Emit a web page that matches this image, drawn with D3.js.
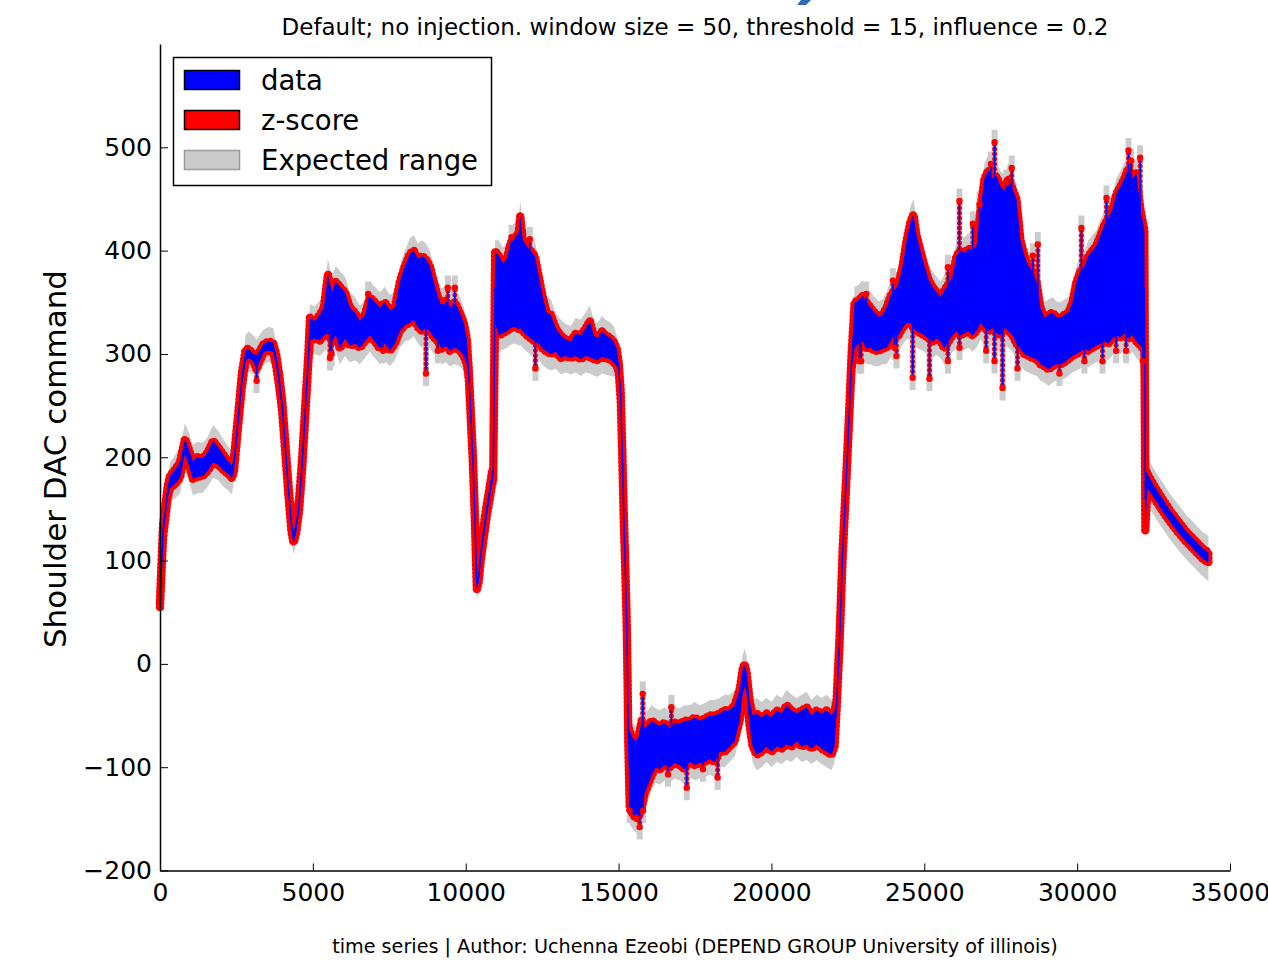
<!DOCTYPE html>
<html><head><meta charset="utf-8">
<script src="https://cdn.jsdelivr.net/npm/d3@7"></script>
<style>body{margin:0;background:#fff}svg{display:block}text{font-family:"DejaVu Sans",sans-serif;fill:#000}</style>
</head><body><svg id="c" width="1268" height="971"></svg>
<script>
const chartTitle = "Default; no injection. window size = 50, threshold = 15, influence = 0.2";
const footer = "time series | Author: Uchenna Ezeobi (DEPEND GROUP University of illinois)";
const yLabel = "Shoulder DAC command";
const legendLabels = ["data", "z-score", "Expected range"];
const xTicks = [0,5000,10000,15000,20000,25000,30000,35000];
const yTicks = [-200,-100,0,100,200,300,400,500];

const time = [0,100,250,327,490,654,817,915,1079,1210,1406,1570,1733,1896,2060,2223,2354,2420,2550,2680,2800,2900,3050,3160,3250,3400,3550,3700,3800,3900,4000,4100,4200,4300,4370,4450,4550,4650,4750,4850,4904,5067,5230,5360,5492,5623,5753,5884,6048,6211,6375,6538,6701,6865,7028,7192,7355,7519,7682,7846,8009,8173,8303,8434,8565,8696,8827,8957,9088,9219,9350,9480,9644,9807,9938,10036,10101,10167,10232,10297,10363,10428,10494,10592,10690,10788,10853,10900,10960,11082,11213,11344,11474,11605,11736,11785,11867,11998,12128,12259,12390,12521,12651,12782,12945,13109,13272,13436,13599,13763,13926,14057,14188,14318,14449,14580,14711,14841,14940,15005,15070,15120,15168,15218,15266,15299,15315,15364,15462,15561,15659,15757,15855,15953,16084,16214,16345,16509,16672,16836,16999,17163,17326,17490,17653,17817,17980,18143,18307,18470,18634,18797,18961,19059,19124,19189,19287,19385,19516,19680,19843,20007,20170,20334,20497,20661,20824,20987,21151,21314,21478,21641,21805,21968,22066,22131,22229,22327,22458,22556,22621,22720,22850,22981,23112,23243,23373,23504,23635,23766,23896,24027,24158,24289,24420,24550,24648,24746,24877,25008,25139,25270,25400,25531,25662,25793,25924,26054,26185,26316,26447,26577,26708,26839,26970,27101,27231,27362,27493,27624,27754,27885,28016,28147,28277,28408,28539,28670,28800,28931,29062,29193,29323,29454,29585,29716,29846,29977,30108,30239,30369,30500,30631,30762,30892,31023,31154,31285,31415,31546,31677,31808,31939,32069,32167,32200,32230,32300,32527,32789,33050,33312,33573,33835,34097,34293];

const dataHigh = [62,135,172,182,188,195,218,210,196,200,199,205,216,210,203,196,192,
200,240,282,304,305,300,299,302,310,312,311,300,280,255,215,175,140,128,138,160,200,250,300,
335,332,338,345,377,360,370,365,360,345,340,332,338,355,350,345,350,342,345,370,385,397,400,392,395,392,385,370,355,348,352,345,350,340,330,315,
285,245,205,150,80,90,112,135,155,172,185,190,400,
395,388,392,408,412,418,434,410,404,400,395,375,355,340,338,325,318,314,312,320,318,325,332,318,315,322,318,316,312,305,
292,265,210,150,100,45,-20,-60,
-65,-72,-75,-70,-55,-62,-60,-55,-58,-60,-57,-62,-57,-58,-55,-55,-52,-55,-53,-50,-50,-48,-45,-45,-40,-25,-5,0,-8,-35,-50,-48,-52,-48,-52,-45,-48,-40,-45,-48,-45,-42,-50,-45,-48,-45,-50,-45,
-35,28,110,190,255,300,
350,352,356,350,345,340,336,338,345,356,362,368,385,410,428,435,415,400,385,372,365,360,355,362,368,375,395,400,398,402,400,405,440,470,478,470,472,462,458,470,460,450,410,395,385,380,370,345,335,338,340,336,335,338,340,350,370,380,385,395,400,405,415,425,432,440,455,462,470,480,470,475,440,425,
420,190,184,172,160,148,138,128,120,112,108];

const dataLow = [55,122,160,170,174,180,203,195,179,181,182,187,195,193,188,184,180,
186,228,268,293,296,293,285,292,302,303,302,288,268,243,203,163,128,117,126,148,188,238,290,
313,315,313,318,320,312,318,305,315,308,310,306,312,318,312,305,310,303,310,322,328,330,333,326,322,325,322,316,312,305,308,303,306,303,298,290,
275,235,195,140,72,80,100,122,143,160,172,178,330,
318,320,322,325,326,324,325,322,318,315,312,310,305,302,300,302,296,298,296,298,295,298,297,295,294,297,296,295,292,288,
283,255,200,140,90,35,-30,-75,
-140,-145,-150,-148,-140,-125,-118,-108,-100,-102,-98,-100,-96,-98,-102,-95,-98,-96,-95,-92,-95,-85,-85,-80,-75,-55,-30,-22,-30,-60,-80,-88,-85,-80,-85,-80,-82,-78,-80,-75,-80,-78,-82,-78,-82,-85,-88,-80,
-45,18,100,180,245,285,
305,310,312,305,306,303,303,305,306,312,320,318,325,330,330,325,322,320,318,315,312,315,312,305,312,318,322,318,320,322,318,322,330,325,322,325,320,318,325,322,318,310,305,300,298,296,295,290,288,285,288,290,290,292,295,298,300,302,305,303,306,308,310,312,310,315,318,316,320,315,318,312,308,305,
302,129,170,160,148,137,127,118,110,102,98];

const rangeHigh = [66,142,182,195,202,210,233,226,212,215,214,220,231,226,218,211,206,
210,248,290,318,322,318,314,318,324,326,325,312,290,265,225,185,150,138,148,170,208,258,310,
348,346,352,360,392,375,385,380,375,360,355,347,352,370,365,360,365,357,360,385,400,412,415,407,410,407,400,385,370,363,367,360,365,355,345,328,
292,252,212,157,88,98,122,146,166,183,195,198,410,
410,403,407,423,427,433,448,425,419,415,410,390,370,355,353,340,333,329,327,335,333,340,347,333,330,337,333,331,327,318,
298,270,215,155,105,50,-15,-55,
-50,-57,-60,-55,-40,-47,-45,-40,-43,-45,-42,-47,-42,-43,-40,-40,-37,-40,-38,-35,-35,-33,-30,-30,-25,-10,8,15,7,-20,-35,-33,-37,-33,-37,-30,-33,-25,-30,-33,-30,-27,-35,-30,-33,-30,-35,-32,
-28,33,115,195,260,308,
365,367,371,365,360,355,351,353,360,371,377,383,400,425,443,450,430,415,400,387,380,375,370,377,383,390,410,415,413,417,415,420,455,485,493,485,487,477,473,485,475,465,425,410,400,395,385,360,350,353,355,351,350,353,355,365,385,395,400,410,415,420,430,440,447,455,470,477,485,495,485,490,455,440,
430,200,200,188,176,164,154,144,136,128,124];

const rangeLow = [48,112,148,157,160,165,188,180,163,165,166,172,180,178,172,168,164,
178,222,262,284,283,280,272,280,290,292,290,280,260,235,195,155,118,106,116,140,180,230,280,
300,300,298,302,305,296,302,290,298,292,294,290,296,302,296,290,294,288,294,306,312,314,317,310,306,308,306,300,296,290,292,288,290,288,284,278,
268,228,188,133,62,70,90,112,132,150,162,172,318,
302,304,306,309,310,308,309,306,302,299,296,294,289,286,284,286,280,282,280,282,279,282,281,279,278,281,280,279,278,278,
277,250,195,135,85,30,-35,-80,
-155,-160,-163,-162,-155,-140,-133,-123,-115,-117,-113,-115,-111,-113,-117,-110,-113,-111,-110,-107,-110,-100,-100,-95,-90,-70,-45,-37,-45,-75,-95,-103,-100,-95,-100,-95,-97,-93,-95,-90,-95,-93,-97,-93,-97,-100,-103,-95,
-52,13,95,175,240,278,
290,294,296,290,290,288,288,290,290,296,304,302,309,314,314,309,306,304,302,299,296,299,296,289,296,302,306,302,304,306,302,306,314,309,306,309,304,302,309,306,302,294,289,284,282,280,279,274,272,269,272,274,274,276,279,282,284,286,289,287,290,292,294,296,294,299,302,300,304,299,302,296,292,290,
295,124,155,143,131,120,110,101,93,85,80];

// isolated excursions (z-score hits)
const spikeTime  = [3160,5560,5612,6811,7300,8700,9088,9251,9415,9644,11500,12095,12280,
  15364,15582,15690,15790,15800,16617,16727,17230,17762,18240,
  22880,22937,23101,23973,24027,24090,24620,25170,25771,25771,26150,26152,26588,26806,27024,27180,27296,27300,27560,27678,27860,28050,28550,28713,29421,30140,30238,30830,30960,31274,31601,31680,31764,32060,32150];
const spikeValue = [274,296,300,358,303,281,303,351,364,364,413,411,286,
  -142,-149,-158,-29,-142,-107,-42,-120,-102,-110,
  293,293,358,371,306,298,277,276,384,293,448,306,426,445,303,484,293,505,267,466,480,286,395,406,281,422,293,293,451,303,303,497,487,490,293];

const svg = d3.select("#c");
const x = d3.scaleLinear().domain([0, 35000]).range([160, 1230]);
const y = d3.scaleLinear().domain([-200, 600]).range([870.5, 44]);
const n = d3.min([time.length, dataHigh.length, dataLow.length, rangeHigh.length, rangeLow.length]);
const idx = d3.range(n);
const tN = time.slice(0, n);

// small blue artifact at top of image
svg.append("path").attr("d", "M801,0L811,0L806,5L797,5Z").attr("fill", "#2a6cb9");

const plot = svg.append("g");

// expected range
plot.append("path")
  .attr("d", d3.area().x(i => x(time[i])).y0(i => y(rangeLow[i])).y1(i => y(rangeHigh[i]))(idx))
  .attr("fill", "#cbcbcb");

function midAt(t) {
  const i = d3.bisectLeft(tN, t);
  const i1 = Math.min(n - 1, i), i0 = Math.max(0, i - 1);
  const f = time[i1] === time[i0] ? 0 : (t - time[i0]) / (time[i1] - time[i0]);
  return ((dataHigh[i0] + dataLow[i0]) * (1 - f) + (dataHigh[i1] + dataLow[i1]) * f) / 2;
}
const spikes = spikeTime.map((t, k) => ({t, v: spikeValue[k], base: midAt(t)}));

plot.selectAll(".sg").data(spikes).join("line")
  .attr("x1", d => x(d.t)).attr("x2", d => x(d.t))
  .attr("y1", d => y(d.base))
  .attr("y2", d => y(d.v + (d.v > d.base ? 12 : -12)))
  .attr("stroke", "#cbcbcb").attr("stroke-width", 6);

const dataArea = d3.area().x(i => x(time[i])).y0(i => y(dataLow[i])).y1(i => y(dataHigh[i]));

// z-score markers (red dots) around the data
plot.append("path").attr("d", dataArea(idx))
  .attr("fill", "none").attr("stroke", "#ff0000").attr("stroke-width", 8.5)
  .attr("stroke-dasharray", "0 4").attr("stroke-linecap", "round").attr("stroke-linejoin", "round");

plot.selectAll(".sr").data(spikes).join("line")
  .attr("x1", d => x(d.t)).attr("x2", d => x(d.t))
  .attr("y1", d => y(d.base)).attr("y2", d => y(d.v))
  .attr("stroke", "#ff0000").attr("stroke-width", 5)
  .attr("stroke-dasharray", "0 5").attr("stroke-linecap", "round");

// data (blue)
plot.append("path").attr("d", dataArea(idx)).attr("fill", "#0000ff");

// thin data trace through transitions
plot.append("path")
  .attr("d", d3.line().x(i => x(time[i])).y(i => y((dataHigh[i] + dataLow[i]) / 2))(idx))
  .attr("fill", "none").attr("stroke", "#0000ff").attr("stroke-width", 1.5);

plot.selectAll(".sb").data(spikes).join("line")
  .attr("x1", d => x(d.t)).attr("x2", d => x(d.t))
  .attr("y1", d => y(d.base)).attr("y2", d => y(d.v))
  .attr("stroke", "#0000ff").attr("stroke-width", 1.6);

plot.selectAll(".sc").data(spikes).join("circle")
  .attr("cx", d => x(d.t)).attr("cy", d => y(d.v)).attr("r", 3.2)
  .attr("fill", "#ff0000");

// axes
const yAxis = d3.axisLeft(y).tickValues(yTicks).tickSizeInner(-8).tickSizeOuter(0).tickPadding(8);
const gy = svg.append("g").attr("transform", "translate(160,0)").call(yAxis);
const xAxis = d3.axisBottom(x).tickValues(xTicks).tickSizeInner(-7).tickSizeOuter(0).tickPadding(13).tickFormat(d3.format("d"));
const gx = svg.append("g").attr("transform", "translate(0,870.5)").call(xAxis);
[gx, gy].forEach(g => {
  g.selectAll("text").attr("font-size", 25).attr("font-family", "DejaVu Sans").attr("fill", "#000");
  g.select(".domain").attr("stroke", "#000").attr("stroke-width", 1.5);
  g.selectAll(".tick line").attr("stroke", "#000").attr("stroke-width", 1);
});

// texts
svg.append("text").attr("x", 695).attr("y", 35).attr("text-anchor", "middle")
  .attr("font-size", 23).text(chartTitle);
svg.append("text").attr("x", 695).attr("y", 953).attr("text-anchor", "middle")
  .attr("font-size", 19.2).text(footer);
svg.append("text").attr("transform", "translate(66,459) rotate(-90)").attr("text-anchor", "middle")
  .attr("font-size", 31).text(yLabel);

// legend
const leg = svg.append("g");
leg.append("rect").attr("x", 173.5).attr("y", 57.5).attr("width", 318).attr("height", 128)
  .attr("fill", "#fff").attr("stroke", "#000").attr("stroke-width", 1.5);
const legFill = ["#0000ff", "#ff0000", "#cbcbcb"];
const legStroke = ["#000", "#000", "#9a9a9a"];
legendLabels.forEach((lab, k) => {
  leg.append("rect").attr("x", 184.5).attr("y", 70.5 + k * 40).attr("width", 55).attr("height", 19)
    .attr("fill", legFill[k]).attr("stroke", legStroke[k]).attr("stroke-width", 1.5);
  leg.append("text").attr("x", 261).attr("y", 90 + k * 40).attr("font-size", 27.5).text(lab);
});
</script>
</body></html>
